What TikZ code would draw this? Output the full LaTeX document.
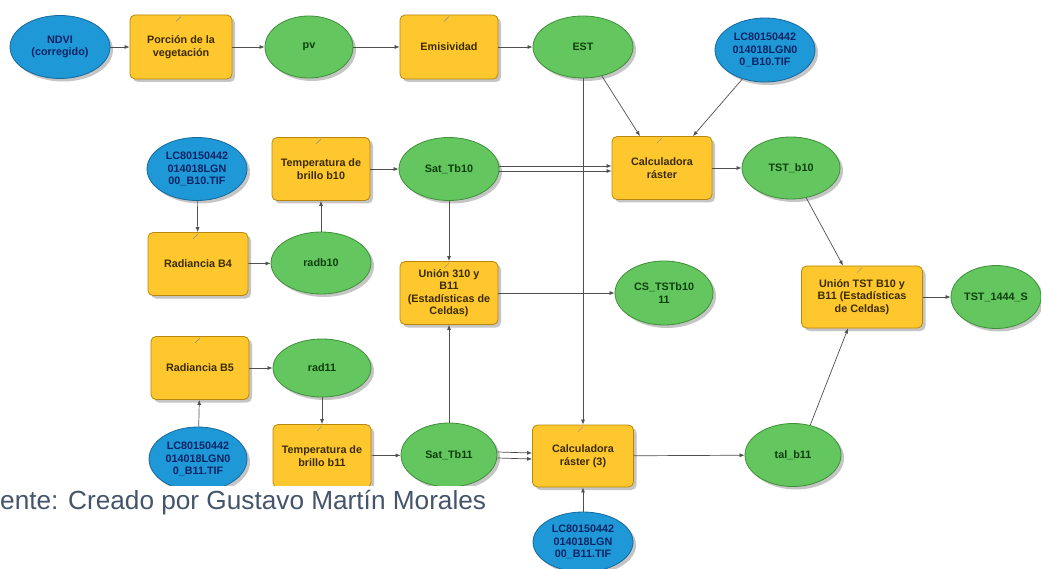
\documentclass[tikz,border=0pt]{standalone}
\usepackage{fontspec}
\setmainfont{Liberation Sans}
\usetikzlibrary{shapes.geometric,shadows,arrows.meta}
\definecolor{boxfill}{HTML}{FEC72E}
\definecolor{boxdraw}{HTML}{B8860B}
\definecolor{grnfill}{HTML}{64C65E}
\definecolor{grndraw}{HTML}{3F8F3A}
\definecolor{blufill}{HTML}{1E98D6}
\definecolor{bludraw}{HTML}{16699A}
\definecolor{boxtext}{HTML}{3A2C00}
\definecolor{grntext}{HTML}{0D3F0D}
\definecolor{blutext}{HTML}{0B2466}
\definecolor{linecol}{HTML}{505050}
\definecolor{foot}{HTML}{44546A}
\tikzset{
 nodebase/.style={font=\fontsize{10.8}{12.5}\selectfont\bfseries, align=center, inner sep=0pt, line width=0.8pt,
   drop shadow={shadow xshift=3pt, shadow yshift=-3pt, fill=black!45}},
 toolbox/.style={nodebase, rectangle, rounded corners=5pt, fill=boxfill, draw=boxdraw, text=boxtext, minimum width=100pt, minimum height=63pt},
 dataell/.style={nodebase, ellipse, fill=grnfill, draw=grndraw, text=grntext, minimum width=98pt, minimum height=62pt},
 inputell/.style={nodebase, ellipse, fill=blufill, draw=bludraw, text=blutext, minimum width=100pt, minimum height=63pt},
 conn/.style={draw=linecol, line width=0.7pt, -{Latex[length=5pt,width=4pt]}},
 toolmark/.style={draw=black!45, line width=0.5pt},
}
\begin{document}
\begin{tikzpicture}[x=1pt,y=-1pt]
\useasboundingbox (0,0) rectangle (1041,569);
\fill[white] (0,0) rectangle (1041,569);
% row 1
\node[inputell] (ndvi) at (60,47) {NDVI\\(corregido)};
\node[toolbox, minimum width=102pt, minimum height=64pt] (porc) at (181,47) {Porción de la\\vegetación};
\node[dataell, minimum width=88pt] (pv) at (309,47) {pv};
\node[toolbox, minimum width=98pt, minimum height=64pt] (emis) at (449,47) {Emisividad};
\node[dataell, minimum width=100pt] (est) at (583,47) {EST};
\node[inputell, minimum height=64pt] (lcA) at (765,50) {LC80150442\\014018LGN0\\0\_B10.TIF};
\node[toolbox] (calc) at (662,168) {Calculadora\\ráster};
\node[dataell] (tstb10) at (791,168) {TST\_b10};
% row 2
\node[inputell] (lcB) at (197,169) {LC80150442\\014018LGN\\00\_B10.TIF};
\node[toolbox, minimum width=98pt] (tempA) at (321,169) {Temperatura de\\brillo b10};
\node[dataell, minimum width=100pt, minimum height=63pt] (satA) at (449,169) {Sat\_Tb10};
\node[toolbox] (radA) at (198,264) {Radiancia B4};
\node[dataell, minimum width=100pt] (radbA) at (321,263) {radb10};
\node[toolbox, minimum width=98pt] (union1) at (449,293) {Unión 310 y\\B11\\(Estadísticas de\\Celdas)};
\node[dataell, minimum height=64pt] (cs) at (664,293) {CS\_TSTb10\\11};
\node[toolbox, minimum width=121pt, minimum height=62pt] (union2) at (862,297) {Unión TST B10 y\\B11 (Estadísticas\\de Celdas)};
\node[dataell, minimum width=90pt, minimum height=63pt] (tst1444) at (996,297) {TST\_1444\_S};
% row 3
\node[toolbox, minimum width=98pt] (radB) at (200,368) {Radiancia B5};
\node[dataell, minimum height=58pt] (radbB) at (322,368) {rad11};
\node[inputell, minimum width=98pt, minimum height=64pt] (lcC) at (198,459) {LC80150442\\014018LGN0\\0\_B11.TIF};
\node[toolbox, minimum width=98pt] (tempB) at (322,456) {Temperatura de\\brillo b11};
\node[dataell, minimum width=96pt, minimum height=64pt] (satB) at (449,455) {Sat\_Tb11};
\node[toolbox, minimum width=101pt, minimum height=62pt] (calc3) at (583,456) {Calculadora\\ráster (3)};
\node[dataell, minimum width=96pt, minimum height=63pt] (tal) at (793,455) {tal\_b11};
\node[inputell, minimum height=60pt] (lcD) at (583,542) {LC80150442\\014018LGN\\00\_B11.TIF};
% tool marks
\foreach \n in {porc,emis,calc,tempA,radA,union1,union2,radB,tempB,calc3}
  \draw[toolmark] (\n.north) ++(-5,7) -- ++(5,-5);
% connectors
\draw[conn] (ndvi) -- (porc);
\draw[conn] (porc) -- (pv);
\draw[conn] (pv) -- (emis);
\draw[conn] (emis) -- (est);
\draw[conn] (est.-57) -- ([xshift=-22pt]calc.north);
\draw[conn] (lcA.-128) -- ([xshift=31pt]calc.north);
\draw[conn] (est) -- (calc3);
\draw[conn] ([yshift=3pt]satA.east) -- ([yshift=2pt]calc.west);
\draw[conn] ([yshift=-2pt]satA.east) -- ([yshift=-3pt]calc.west);
\draw[conn] (calc) -- (tstb10);
\draw[conn] (tempA) -- (satA);
\draw[conn] (lcB) -- (radA);
\draw[conn] (radA) -- (radbA);
\draw[conn] (radbA) -- (tempA);
\draw[conn] (satA) -- (union1);
\draw[conn] (satB) -- (union1);
\draw[conn] (union1) -- (cs);
\draw[conn] (radB) -- (radbB);
\draw[conn] (lcC) -- (radB);
\draw[conn] (radbB) -- (tempB);
\draw[conn] (tempB) -- (satB);
\draw[conn] ([yshift=3pt]satB.east) -- ([yshift=3pt]calc3.west);
\draw[conn] ([yshift=-3pt]satB.east) -- ([yshift=-3pt]calc3.west);
\draw[conn] (lcD) -- (calc3);
\draw[conn] (calc3) -- (tal);
\draw[conn] (tstb10.-63) -- ([xshift=-19pt]union2.north);
\draw[conn] (tal.60) -- ([xshift=-14pt]union2.south);
\draw[conn] (union2) -- (tst1444);
% source note
\fill[white] (0,486) rectangle (503,569);
\node[anchor=base west, inner sep=0pt, font=\fontsize{26.2}{30}\selectfont, text=foot] (src) at (0,509) {ente: Creado por Gustavo Martín Morales};
\end{tikzpicture}
\end{document}
